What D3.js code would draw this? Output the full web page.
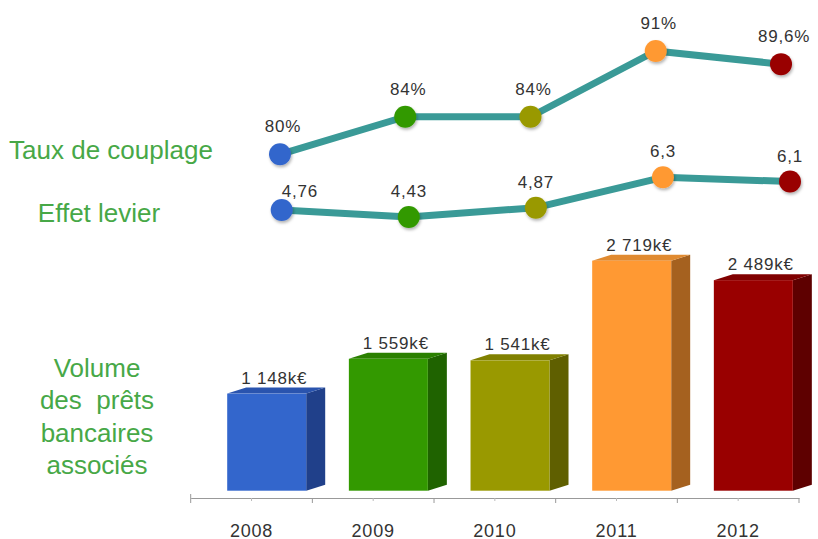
<!DOCTYPE html>
<html><head><meta charset="utf-8">
<script src="https://cdn.jsdelivr.net/npm/d3@7"></script>
<style>
html,body{margin:0;padding:0;background:#fff;}
svg{display:block;font-family:"Liberation Sans",Arial,sans-serif;}
</style></head>
<body>
<svg id="chart" width="818" height="539"></svg>
<script>
const years = ["2008","2009","2010","2011","2012"];
const volume = [1148, 1559, 1541, 2719, 2489];
const volumeLabels = ["1 148k€","1 559k€","1 541k€","2 719k€","2 489k€"];
const taux = [80, 84, 84, 91, 89.6];
const tauxLabels = ["80%","84%","84%","91%","89,6%"];
const levier = [4.76, 4.43, 4.87, 6.3, 6.1];
const levierLabels = ["4,76","4,43","4,87","6,3","6,1"];
const pointColors = ["#3366cc","#339900","#999900","#ff9933","#990000"];
const sideColors = ["#20408a","#1f6300","#5f5f00","#a5611f","#5e0000"];
const topColors = ["#2a54ae","#2a8000","#808000","#e08a30","#800000"];

const svg = d3.select("#chart");
const green = "#47a847";
const lineColor = "#3a9a97";

const defs = svg.append("defs");
const f = defs.append("filter").attr("id","sh").attr("x","-50%").attr("y","-50%").attr("width","200%").attr("height","200%");
f.append("feDropShadow").attr("dx",1).attr("dy",2).attr("stdDeviation",1.5).attr("flood-color","#000").attr("flood-opacity",0.3);

// Bars
const x = d3.scaleBand().domain(years).range([190.7, 799]).paddingInner(0).paddingOuter(0);
const y = d3.scaleLinear().domain([0, 2719]).range([490.7, 260.7]);
const frontOff = 36.5, frontW = 79, dx = 19, dy = 6;

const bars = svg.append("g");
years.forEach((yr, i) => {
  const x0 = x(yr) + frontOff, x1 = x0 + frontW;
  const top = y(volume[i]), bot = y(0);
  const g = bars.append("g");
  g.append("polygon").attr("points", [[x1,top],[x1+dx,top-dy],[x1+dx,bot-dy],[x1,bot]].join(" ")).attr("fill", sideColors[i]);
  g.append("polygon").attr("points", [[x0,top],[x0+dx,top-dy],[x1+dx,top-dy],[x1,top]].join(" ")).attr("fill", topColors[i]);
  g.append("rect").attr("x", x0).attr("y", top).attr("width", frontW).attr("height", bot - top).attr("fill", pointColors[i]);
  g.append("text").attr("x", (x0 + x1 + dx) / 2 - 2).attr("y", top - dy - 4)
    .attr("text-anchor","middle").attr("font-size",17).attr("letter-spacing","0.8px")
    .attr("fill","#333").text(volumeLabels[i]);
});

// Axis
const axisY = 498;
const ax = svg.append("g").attr("transform", `translate(0,${axisY})`);
ax.call(d3.axisBottom(x).tickSize(5).tickFormat("").tickSizeOuter(0));
ax.select(".domain").attr("stroke","#999");
ax.selectAll(".tick line").attr("stroke","#bbb").attr("y2",3);
const bounds = years.map(d => x(d)).concat([x.range()[1]]);
ax.selectAll(".major").data(bounds).join("line").attr("class","major")
  .attr("x1", d => d).attr("x2", d => d).attr("y1", 0).attr("y2", 5).attr("stroke","#999");
ax.append("line").attr("x1", bounds[0]).attr("x2", bounds[0]).attr("y1", -4).attr("y2", 0).attr("stroke","#999");
svg.append("g").selectAll("text").data(years).join("text")
  .attr("x", d => x(d) + x.bandwidth()/2).attr("y", 536.5)
  .attr("text-anchor","middle").attr("font-size",18).attr("letter-spacing","0.8px").attr("fill","#333").text(d => d);

// Lines
const xT = d3.scalePoint().domain(years).range([280, 781]);
const yT = d3.scaleLinear().domain([80, 91]).range([154.3, 51]);
const xL = d3.scalePoint().domain(years).range([281.7, 790]);
const yL = d3.scaleLinear().domain([4.76, 6.3]).range([210, 177.3]);

function drawSeries(vals, labels, xs, ys, labelPos) {
  const g = svg.append("g");
  g.append("path").datum(vals)
    .attr("d", d3.line().x((d,i) => xs(years[i])).y(d => ys(d)))
    .attr("fill","none").attr("stroke", lineColor).attr("stroke-width", 7).attr("stroke-linejoin","round");
  g.selectAll("circle").data(vals).join("circle")
    .attr("cx", (d,i) => xs(years[i])).attr("cy", d => ys(d)).attr("r", 11)
    .attr("fill", (d,i) => pointColors[i]).attr("filter","url(#sh)");
  g.selectAll("text").data(vals).join("text")
    .each(function(d,i){
      const p = labelPos(i);
      d3.select(this).attr("x", xs(years[i]) + p.dx).attr("y", ys(d) + p.dy).attr("text-anchor", p.anchor);
    })
    .attr("font-size",17).attr("letter-spacing","0.8px").attr("fill","#333")
    .text((d,i) => labels[i]);
}
drawSeries(taux, tauxLabels, xT, yT, i => ({dx: 3, dy: -22, anchor: "middle"}));
drawSeries(levier, levierLabels, xL, yL, i => i === 0 ? {dx: 0, dy: -13, anchor: "start"} : {dx: 0, dy: -20, anchor: "middle"});

// Left labels
const lab = svg.append("g").attr("fill", green).attr("font-size", 26).attr("text-anchor","middle");
lab.append("text").attr("x", 111).attr("y", 158.5).text("Taux de couplage");
lab.append("text").attr("x", 99).attr("y", 222).text("Effet levier");
["Volume","des  prêts","bancaires","associés"].forEach((t, i) => {
  lab.append("text").attr("x", 97).attr("y", 377 + i * 32.3).style("white-space","pre").text(t);
});
</script>
</body></html>
